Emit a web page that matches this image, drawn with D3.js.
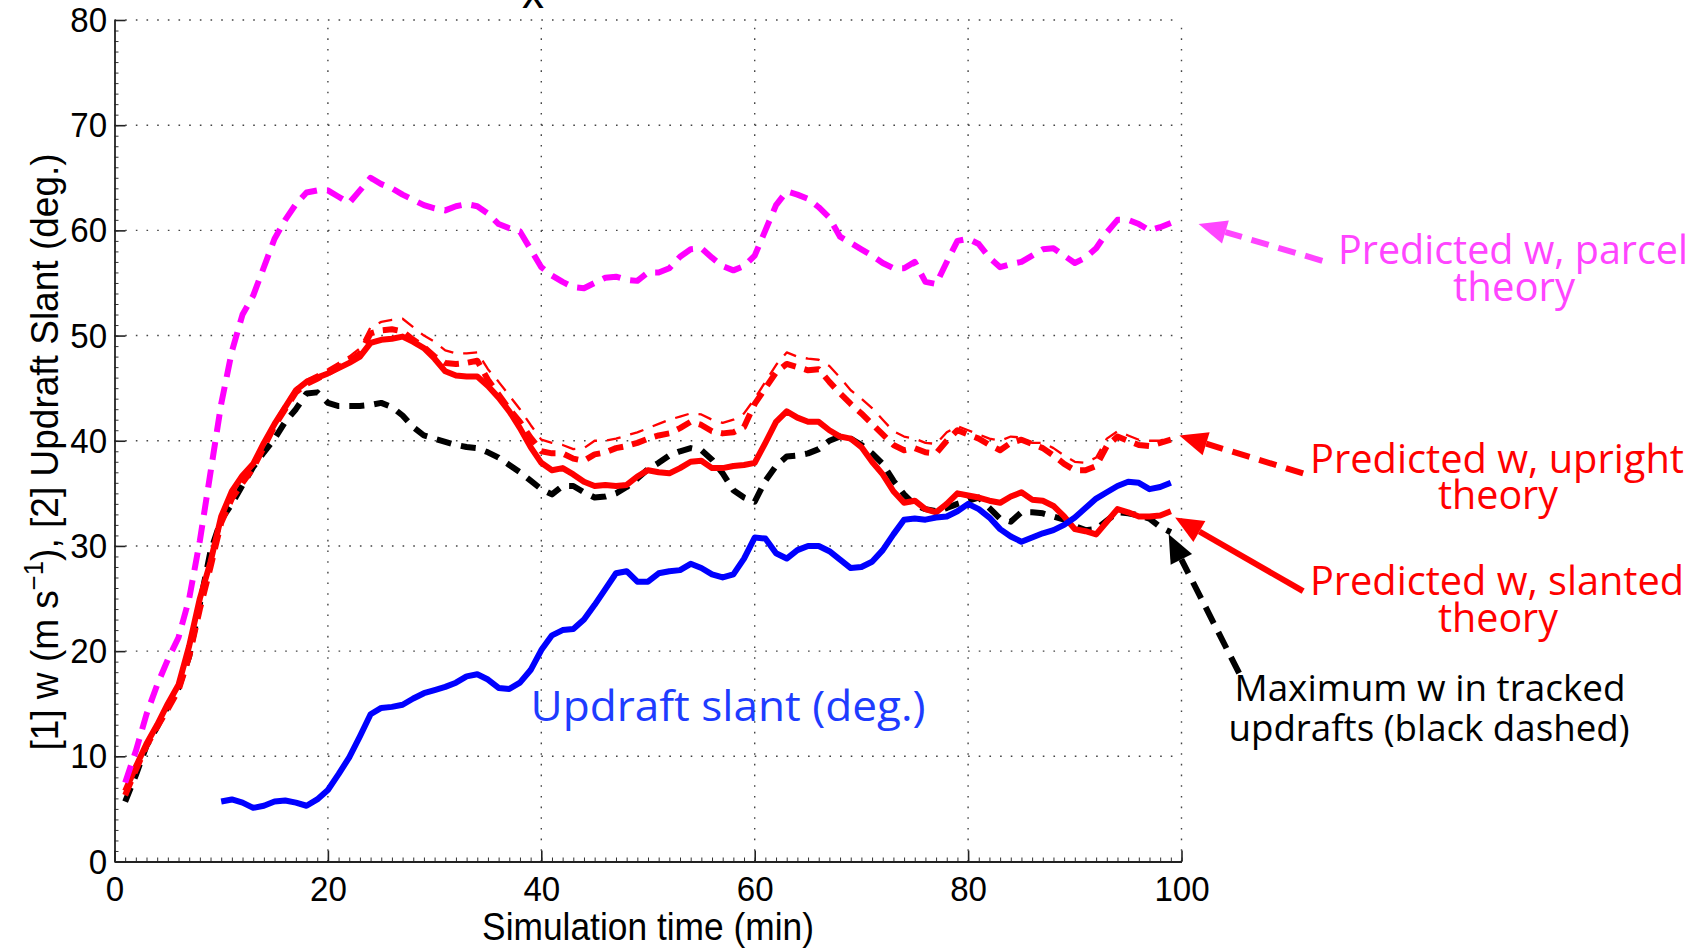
<!DOCTYPE html>
<html>
<head>
<meta charset="utf-8">
<script src="https://cdn.jsdelivr.net/npm/d3@7"></script>
<style>
  html, body { margin: 0; padding: 0; background: #fff; }
  svg { display: block; }
</style>
</head>
<body>
<svg id="chart" width="1697" height="949"></svg>
<script>
// Simulation time (min) for the predicted / observed updraft speed series
const time = [1,2,3,4,5,6,7,8,9,10,11,12,13,14,15,16,17,18,19,20,
  21,22,23,24,25,26,27,28,29,30,31,32,33,34,35,36,37,38,39,40,
  41,42,43,44,45,46,47,48,49,50,51,52,53,54,55,56,57,58,59,60,
  61,62,63,64,65,66,67,68,69,70,71,72,73,74,75,76,77,78,79,80,
  81,82,83,84,85,86,87,88,89,90,91,92,93,94,95,96,97,98,99];

// Predicted w, parcel theory (m/s)
const parcelW = [7.5,10.5,14,16.8,19.2,21.3,25,30.5,37,43.5,
  48.5,52,53.8,56.5,59.2,61,62.5,63.6,63.8,63.8,
  63.2,62.6,63.8,65,64.4,64,63.4,62.9,62.4,62.1,
  61.9,62.3,62.5,62.3,61.6,60.6,60.2,59.9,58.2,56.5,
  55.7,55.1,54.6,54.5,55,55.5,55.6,55.3,55.2,56,
  56,56.4,57.5,58.2,58.3,57.4,56.6,56.2,56.6,57.6,
  60,62.4,63.7,63.4,63,62.2,61.2,59.4,58.8,58.2,
  57.6,56.9,56.4,56.4,57,55.1,54.9,57,59,59.2,
  58.7,57.4,56.5,56.8,57,57.6,58.2,58.3,57.6,56.9,
  57.4,58.3,59.8,61,61,60.6,60,60.3,60.7];

// Predicted w, upright theory (heavy dashed)
const uprightW = [6.3,8.7,11,12.8,14.5,16.3,19.5,24,28,32.2,
  34.5,36,37.4,39.4,41.4,43,44.6,45.4,45.9,46.4,
  47,47.6,48.3,50.2,50.5,50.6,50.4,49.6,48.9,48,
  47.4,47.3,47.4,47.6,45.8,44.4,43,41.8,40.3,39,
  38.8,38.8,38.3,38.1,38.7,38.9,39.3,39.5,39.8,40.2,
  40.5,40.7,41.2,41.8,41.5,40.9,40.7,40.8,41.3,43.5,
  45,46.5,47.3,47,46.7,46.8,45.6,44.5,43.5,42.6,
  41.6,40.6,39.6,39.1,39.3,38.9,38.8,40,41,40.6,
  40.2,39.6,39.1,39.8,40.1,39.7,39.3,38.6,37.8,37.2,
  37.2,37.6,39.5,40.4,40,39.6,39.5,39.8,40.1];

// Predicted w, upright theory (thin dashed variant)
const uprightAltW = [6.5,8.9,11.3,13.1,14.8,16.6,20,24.5,28.5,32.6,
  35,36.5,37.8,39.8,41.8,43.5,45,45.8,46.3,46.8,
  47.4,48,48.8,50.8,51.3,51.5,51.6,50.8,50,49.4,
  48.6,48.3,48.3,48.4,46.8,45.6,44.3,43,41.5,40.1,
  39.8,39.6,39.2,39.3,40,40,40.2,40.5,40.8,41.2,
  41.6,42,42.3,42.6,42.5,42,41.7,42,42.6,44,
  45.6,47.2,48.4,48,47.8,47.7,47.1,46,44.8,44,
  43.1,42,40.9,40.4,40.2,39.8,39.7,40.8,41.4,41,
  40.6,40.2,40,40.4,40.3,39.8,39.8,39.3,38.6,38,
  37.9,38.4,40.2,40.9,40.5,40.1,40,40,40.4];

// Predicted w, slanted theory
const slantedW = [6.7,9,11.2,13,15,16.8,20.5,25,28.5,32.8,
  35.2,36.7,37.8,39.8,41.6,43.2,44.8,45.6,46,46.4,
  46.9,47.4,48,49.3,49.6,49.7,49.9,49.4,48.8,47.8,
  46.6,46.2,46.1,46.1,45.2,44.1,42.8,41.2,39.4,37.9,
  37.2,37.4,36.8,36.1,35.7,35.8,35.7,35.8,36.6,37.2,
  37,36.9,37.4,38,38.1,37.4,37.4,37.6,37.7,37.9,
  39.8,41.8,42.8,42.2,41.8,41.8,41,40.4,40.2,39.4,
  38,36.8,35.2,34.1,34.3,33.5,33.2,34,35,34.8,
  34.6,34.3,34.1,34.7,35.1,34.4,34.3,33.8,32.8,31.6,
  31.4,31.1,32.3,33.5,33.2,32.8,32.8,32.9,33.3];

// Maximum w in tracked updrafts
const maxW = [5.7,8.2,11,12.8,14.8,16.5,19.5,24.5,29.5,32.5,
  34,35.8,37.5,38.9,40.2,41.8,43,44.5,44.6,43.6,
  43.3,43.3,43.3,43.4,43.6,43.2,42.4,41.3,40.5,40.2,
  39.9,39.6,39.4,39.3,38.9,38.4,37.7,37,36.2,35.4,
  34.9,35.7,35.7,35.1,34.6,34.7,35,35.6,36.4,37.3,
  37.9,38.6,39,39.3,39.1,38.2,36.9,35.3,34.6,34.2,
  36.2,37.6,38.5,38.6,38.8,39.2,40,40.4,40.2,39.6,
  38.8,37.8,36.2,34.9,33.9,33.5,33.3,33.6,34,34.3,
  34.6,33.6,32.6,32.3,33.2,33.2,33.1,32.8,32.5,31.9,
  31.5,31.6,32.4,33.2,33.1,32.9,32.6,31.8,31.3];

// Updraft slant (deg.), available from minute 10
const slantTime = [10,11,12,13,14,15,16,17,18,19,20,21,22,23,24,25,26,27,28,29,
  30,31,32,33,34,35,36,37,38,39,40,41,42,43,44,45,46,47,48,49,
  50,51,52,53,54,55,56,57,58,59,60,61,62,63,64,65,66,67,68,69,
  70,71,72,73,74,75,76,77,78,79,80,81,82,83,84,85,86,87,88,89,
  90,91,92,93,94,95,96,97,98,99];
const slantDeg = [5.7,5.9,5.6,5.1,5.3,5.7,5.8,5.6,5.3,5.9,
  6.8,8.3,9.9,11.9,14,14.6,14.7,14.9,15.5,16,
  16.3,16.6,17,17.6,17.8,17.3,16.5,16.4,17,18.2,
  20.1,21.5,22,22.1,23,24.4,25.9,27.4,27.6,26.6,
  26.6,27.4,27.6,27.7,28.3,27.9,27.3,27,27.3,28.8,
  30.8,30.7,29.3,28.8,29.6,30,30,29.5,28.7,27.9,
  28,28.5,29.6,31.1,32.5,32.6,32.5,32.7,32.8,33.3,
  34,33.5,32.7,31.6,30.9,30.4,30.8,31.2,31.5,32,
  32.7,33.6,34.5,35.1,35.7,36.1,36,35.4,35.6,36];

// Axis ticks
const xTicks = [0,20,40,60,80,100];
const yTicks = [0,10,20,30,40,50,60,70,80];

const svg = d3.select("#chart");
svg.append("rect").attr("width",1697).attr("height",949).attr("fill","#fff");

const x = d3.scaleLinear().domain([0,100]).range([114.5,1181.5]);
const y = d3.scaleLinear().domain([0,80]).range([861.5,20]);

const tickFont = "'Liberation Sans', Arial, Helvetica, sans-serif";

// Dotted grid
const grid = svg.append("g").attr("stroke","#444").attr("stroke-width",1.4)
  .attr("stroke-dasharray","1.6,9.07").attr("fill","none");
xTicks.filter(d => d > 0).forEach(d => {
  grid.append("line").attr("x1",x(d)).attr("x2",x(d)).attr("y1",y(0)).attr("y2",y(80));
});
yTicks.filter(d => d > 0).forEach(d => {
  grid.append("line").attr("x1",x(0)).attr("x2",x(100)).attr("y1",y(d)).attr("y2",y(d));
});

// Data lines
const line = (xs, ys) => d3.line().x((d,i) => x(xs[i])).y(d => y(d))(ys);

const series = [
  { xs: time, ys: maxW,        color: "#000000", width: 6,   dash: "15,10" },
  { xs: time, ys: uprightAltW, color: "#ff0000", width: 2.3, dash: "14,10" },
  { xs: time, ys: uprightW,    color: "#ff0000", width: 6,   dash: "15,9" },
  { xs: time, ys: slantedW,    color: "#ff0000", width: 6,   dash: null },
  { xs: time, ys: parcelW,     color: "#ff00ff", width: 6,   dash: "18,10" },
  { xs: slantTime, ys: slantDeg, color: "#0000ff", width: 6, dash: null }
];
series.forEach(s => {
  const p = svg.append("path")
    .attr("d", line(s.xs, s.ys))
    .attr("fill","none")
    .attr("stroke", s.color)
    .attr("stroke-width", s.width)
    .attr("stroke-linejoin","round");
  if (s.dash) p.attr("stroke-dasharray", s.dash);
});

// Axes (ticks point inward)
const minorX = d3.range(0,101,1);
const minorY = d3.range(0,81,1);
svg.append("g").attr("transform",`translate(0,${y(0)})`)
  .call(d3.axisBottom(x).tickValues(minorX).tickSize(-4).tickFormat(""))
  .call(g => g.select(".domain").remove())
  .call(g => g.selectAll("line").attr("stroke","#333").attr("stroke-width",1));
svg.append("g").attr("transform",`translate(${x(0)},0)`)
  .call(d3.axisLeft(y).tickValues(minorY).tickSize(-4).tickFormat(""))
  .call(g => g.select(".domain").remove())
  .call(g => g.selectAll("line").attr("stroke","#333").attr("stroke-width",1));

const xAxis = svg.append("g").attr("transform",`translate(0,${y(0)})`)
  .call(d3.axisBottom(x).tickValues(xTicks).tickSizeInner(-11).tickSizeOuter(0).tickPadding(14));
const yAxis = svg.append("g").attr("transform",`translate(${x(0)},0)`)
  .call(d3.axisLeft(y).tickValues(yTicks).tickSizeInner(-11).tickSizeOuter(0).tickPadding(8));
[xAxis, yAxis].forEach(g => {
  g.select(".domain").attr("stroke","#222").attr("stroke-width",1.8);
  g.selectAll(".tick line").attr("stroke","#222").attr("stroke-width",1.6);
  g.selectAll(".tick text").attr("fill","#000")
    .style("font-family",tickFont).style("font-size","36px")
    .attr("transform","scale(0.92,1)");
});

// Axis titles
svg.append("text")
  .attr("transform","translate(648,940) scale(0.93,1)")
  .attr("text-anchor","middle")
  .style("font-family",tickFont).style("font-size","38px")
  .text("Simulation time (min)");

const yTitle = svg.append("text")
  .attr("transform","translate(58,452) rotate(-90) scale(0.95,1)")
  .attr("text-anchor","middle")
  .style("font-family",tickFont).style("font-size","39px");
yTitle.append("tspan").text("[1] w (m s");
yTitle.append("tspan").attr("dy",-15).style("font-size","27px").text("\u22121");
yTitle.append("tspan").attr("dy",15).text("), [2] Updraft Slant (deg.)");

// Clipped title remnant at the top edge
svg.append("text")
  .attr("x", 533).attr("y", 8)
  .attr("text-anchor","middle")
  .style("font-family",tickFont).style("font-size","44px")
  .text("x");

// Annotation arrows
function arrow(t0, v0, t1, v1, color, dash) {
  const x0 = x(t0), y0 = y(v0), x1 = x(t1), y1 = y(v1);
  const ang = Math.atan2(y1 - y0, x1 - x0);
  const headL = 28, headW = 12;
  const bx = x1 - headL * Math.cos(ang), by = y1 - headL * Math.sin(ang);
  const l = svg.append("line")
    .attr("x1", x0).attr("y1", y0).attr("x2", bx).attr("y2", by)
    .attr("stroke", color).attr("stroke-width", 6);
  if (dash) l.attr("stroke-dasharray", dash);
  const px = -Math.sin(ang), py = Math.cos(ang);
  svg.append("path")
    .attr("d", `M${x1},${y1}L${bx + px*headW},${by + py*headW}L${bx - px*headW},${by - py*headW}Z`)
    .attr("fill", color);
}
arrow(113.2, 57.1, 101.6, 60.6, "#ff45ff", "18,10");
arrow(111.4, 36.9, 99.8, 40.5, "#ff0000", "18,10");
arrow(111.4, 25.7, 99.4, 32.7, "#ff0000", null);
arrow(105.4, 17.9, 98.8, 31.1, "#000000", "18,10");

// Annotation labels
const noteFont = "'Open Sans', 'Noto Sans', sans-serif";
const notes = [
  { text: "Predicted w, parcel",    cx: 1513, y: 264, len: 350, color: "#ff45ff", size: 40 },
  { text: "theory",                 cx: 1514, y: 301, len: 122, color: "#ff45ff", size: 40 },
  { text: "Predicted w, upright",   cx: 1497, y: 473, len: 374, color: "#ff0000", size: 40 },
  { text: "theory",                 cx: 1498, y: 509, len: 120, color: "#ff0000", size: 40 },
  { text: "Predicted w, slanted",   cx: 1497, y: 595, len: 374, color: "#ff0000", size: 40 },
  { text: "theory",                 cx: 1498, y: 632, len: 120, color: "#ff0000", size: 40 },
  { text: "Maximum w in tracked",   cx: 1430, y: 701, len: 391, color: "#000000", size: 37 },
  { text: "updrafts (black dashed)", cx: 1429, y: 741, len: 401, color: "#000000", size: 37 },
  { text: "Updraft slant (deg.)",   cx: 728,  y: 721, len: 395, color: "#1e3cff", size: 42 }
];
notes.forEach(n => {
  svg.append("text")
    .attr("x", n.cx).attr("y", n.y)
    .attr("text-anchor","middle")
    .attr("textLength", n.len).attr("lengthAdjust","spacingAndGlyphs")
    .attr("fill", n.color)
    .style("font-family", noteFont).style("font-size", n.size + "px")
    .text(n.text);
});
</script>
</body>
</html>
